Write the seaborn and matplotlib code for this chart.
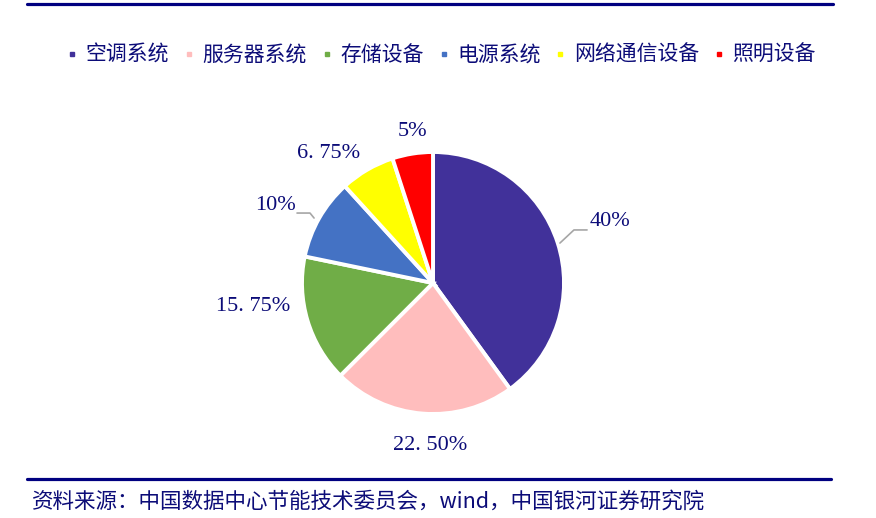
import matplotlib
matplotlib.use("Agg")
import matplotlib.pyplot as plt
from matplotlib.lines import Line2D
import seaborn as sns

# data
categories = ["空调系统", "服务器系统", "存储设备", "电源系统", "网络通信设备", "照明设备"]
shares = [40, 22.5, 15.75, 10, 6.75, 5]
pct_labels = ["40%", "22. 50%", "15. 75%", "10%", "6. 75%", "5%"]
colors = ["#41319A", "#FFBDBD", "#70AD47", "#4472C4", "#FFFF00", "#FF0000"]

source = "资料来源：中国数据中心节能技术委员会，wind，中国银河证券研究院"

sns.set_theme(style="white")
plt.rcParams["font.family"] = ["Noto Sans CJK SC", "DejaVu Sans"]

navy = "#000080"
text_col = "#0C0C78"

W, H = 876, 518
fig = plt.figure(figsize=(W / 100, H / 100), dpi=100)

# pie axes: centre (433, 283) px, radius 131 px  -> data radius 1
cx, cy, r = 433, 283, 131
half = 2 * r
ax = fig.add_axes([(cx - half) / W, (H - cy - half) / H, 2 * half / W, 2 * half / H])
ax.pie(shares, colors=colors, startangle=90, counterclock=False,
       wedgeprops=dict(edgecolor="white", linewidth=2.8))
ax.set_xlim(-2, 2)
ax.set_ylim(-2, 2)
ax.set_aspect("equal")
ax.axis("off")

# percentage labels (positions in pie-radius units)
label_pos = [(1.351, 0.466), (-0.023, -1.237), (-1.374, -0.183),
             (-1.206, 0.588), (-0.794, 0.992), (-0.160, 1.160)]
for (lx, ly), txt in zip(label_pos, pct_labels):
    ax.text(lx, ly, txt, ha="center", va="center", fontsize=16,
            color=text_col, family=["Liberation Serif", "DejaVu Serif"])

# leader lines
ax.plot([0.969, 1.076, 1.176], [0.305, 0.405, 0.405], color="#A6A6A6", lw=1.2)
ax.plot([-0.908, -0.939, -1.038], [0.496, 0.534, 0.534], color="#A6A6A6", lw=1.2)

# legend
handles = [Line2D([], [], marker="s", linestyle="", color=c, markersize=3.5)
           for c in colors]
fig.legend(handles, categories, loc="center", bbox_to_anchor=(442 / W, 1 - 55 / H),
           ncol=6, frameon=False, fontsize=15, handlelength=0.4,
           handletextpad=0.45, columnspacing=0.75, labelcolor=text_col,
           borderpad=0, borderaxespad=0)

# rules
fig.add_artist(Line2D([27 / W, 833 / W], [1 - 3.5 / H] * 2, color=navy, lw=2.3))
fig.add_artist(Line2D([27 / W, 831 / W], [1 - 478.5 / H] * 2, color=navy, lw=2.3))

fig.text(32 / W, 1 - 502 / H, source, ha="left", va="center", fontsize=15.5,
         color=text_col, style="italic")

fig.savefig("out.png", dpi=100)
